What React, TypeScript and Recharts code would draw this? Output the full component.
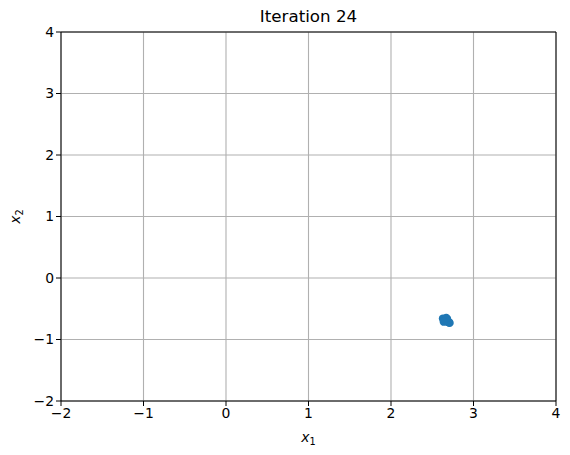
import React from "react";
import {
  ScatterChart,
  Scatter,
  XAxis,
  YAxis,
  CartesianGrid,
  ReferenceLine,
  Label,
} from "recharts";

const xTicks = [-2, -1, 0, 1, 2, 3, 4];
const yTicks = [-2, -1, 0, 1, 2, 3, 4];

const pointsX = [2.63, 2.66, 2.7, 2.68, 2.65, 2.71, 2.67, 2.64];
const pointsY = [-0.66, -0.7, -0.72, -0.67, -0.69, -0.73, -0.65, -0.71];

const points = pointsX.map((x, i) => ({ x, y: pointsY[i] }));

const FONT = "DejaVu Sans";
const fmt = (v: number) => (v < 0 ? `\u2212${-v}` : `${v}`);

const Dot = (props: any) => (
  <circle cx={props.cx} cy={props.cy} r={4.2} fill="#1f77b4" />
);

export default function App() {
  return (
    <div style={{ position: "absolute", left: 0, top: 0, background: "#fff" }}>
      <div
        style={{
          position: "absolute",
          left: 0,
          top: 6,
          width: 617,
          textAlign: "center",
          fontFamily: FONT,
          fontSize: 16.7,
          color: "#000",
        }}
      >
        Iteration 24
      </div>
      <ScatterChart
        width={570}
        height={455}
        margin={{ top: 32, right: 14, left: 0, bottom: 0 }}
      >
        <CartesianGrid stroke="#b0b0b0" strokeWidth={1.1} />
        <XAxis
          type="number"
          dataKey="x"
          domain={[-2, 4]}
          ticks={xTicks}
          tickFormatter={fmt}
          height={54}
          stroke="#000"
          tickSize={5}
          tick={{ fontFamily: FONT, fontSize: 13.9, fill: "#000" }}
          allowDataOverflow
        >
          <Label
            content={(p: any) => {
              const vb = p.viewBox;
              return (
                <text
                  x={vb.x + vb.width / 2}
                  y={vb.y + 41}
                  textAnchor="middle"
                  fontFamily={FONT}
                  fontSize={13.9}
                  fontStyle="italic"
                  fill="#000"
                >
                  x
                  <tspan dy={3} fontSize={9.7} fontStyle="normal">
                    1
                  </tspan>
                </text>
              );
            }}
          />
        </XAxis>
        <YAxis
          type="number"
          dataKey="y"
          domain={[-2, 4]}
          ticks={yTicks}
          tickFormatter={fmt}
          width={61}
          stroke="#000"
          tickSize={5}
          tick={{ fontFamily: FONT, fontSize: 13.9, fill: "#000" }}
          allowDataOverflow
        >
          <Label
            content={(p: any) => {
              const vb = p.viewBox;
              const cx = 20;
              const cy = vb.y + vb.height / 2;
              return (
                <text
                  x={cx}
                  y={cy}
                  transform={`rotate(-90 ${cx} ${cy})`}
                  textAnchor="middle"
                  fontFamily={FONT}
                  fontSize={13.9}
                  fontStyle="italic"
                  fill="#000"
                >
                  x
                  <tspan dy={3} fontSize={9.7} fontStyle="normal">
                    2
                  </tspan>
                </text>
              );
            }}
          />
        </YAxis>
        <ReferenceLine y={4} stroke="#000" />
        <ReferenceLine x={4} stroke="#000" />
        <Scatter data={points} shape={Dot} isAnimationActive={false} />
      </ScatterChart>
    </div>
  );
}
